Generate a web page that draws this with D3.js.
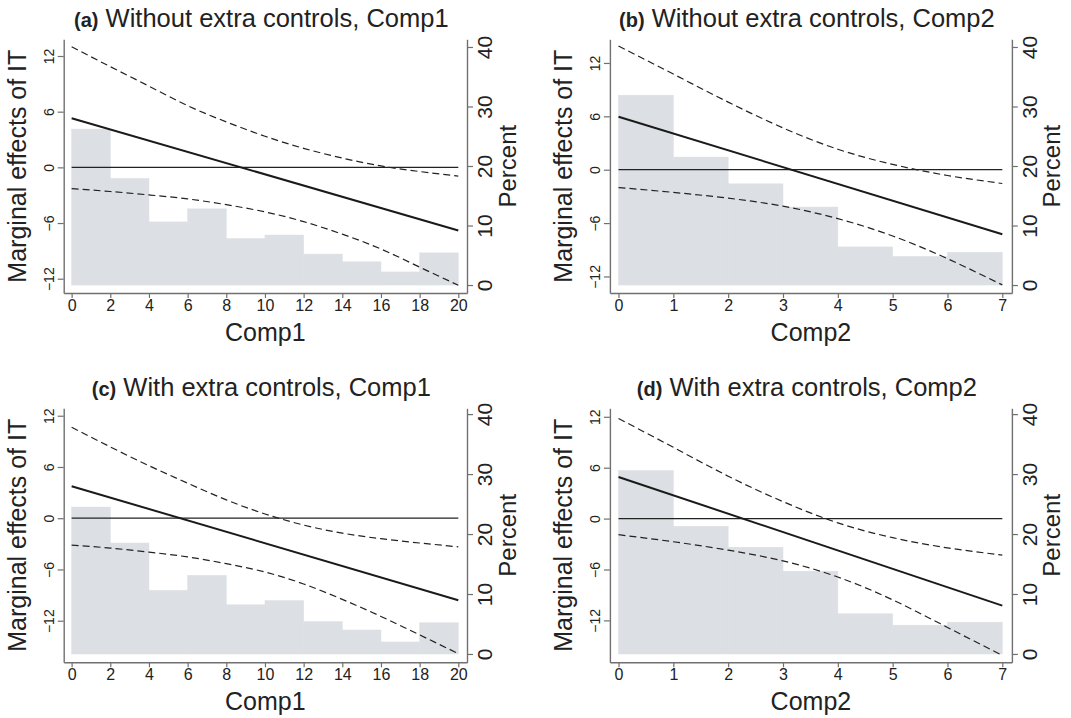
<!DOCTYPE html>
<html>
<head>
<meta charset="utf-8">
<script src="https://cdn.jsdelivr.net/npm/d3@7"></script>
<style>
  html, body { margin: 0; padding: 0; background: #fff; }
  svg { display: block; font-family: "Liberation Sans", Arial, sans-serif; }
</style>
</head>
<body>
<div id="chart"></div>
<script>
// Marginal effects of IT with histograms of the moderator (2x2 panel)

// x grid for the two moderators
const comp1X = [0, 2, 4, 6, 8, 10, 12, 14, 16, 18, 20];
const comp2X = [0, 1, 2, 3, 4, 5, 6, 7];

// histogram bins (percent), one bar per grid interval
const histA = [26.2, 17.9, 10.6, 12.8, 7.8, 8.4, 5.2, 3.9, 2.2, 5.4];
const histB = [31.9, 21.5, 17.0, 13.1, 6.4, 4.8, 5.5];
const histC = [24.5, 18.5, 10.6, 13.1, 8.2, 8.9, 5.4, 4.0, 2.0, 5.2];
const histD = [30.6, 21.3, 17.8, 13.8, 6.7, 4.8, 5.3];

// marginal effect line (straight, start and end values)
const effA = [5.3, -6.8];
const effB = [5.95, -7.25];
const effC = [3.75, -9.6];
const effD = [4.91, -10.26];

// 95% confidence bands, read at every grid point
const upperA = [13.0, 10.85, 8.75, 6.65, 4.9, 3.35, 2.05, 1.0, 0.15, -0.45, -0.95];
const lowerA = [-2.3, -2.6, -2.97, -3.4, -4.02, -4.8, -5.85, -7.2, -8.8, -10.75, -12.7];
const upperB = [13.9, 10.75, 7.6, 4.7, 2.3, 0.6, -0.65, -1.55];
const lowerB = [-2.0, -2.55, -3.2, -4.1, -5.5, -7.45, -10.0, -12.95];
const upperC = [10.65, 8.35, 6.15, 4.1, 2.15, 0.5, -0.8, -1.75, -2.4, -2.9, -3.35];
const lowerC = [-3.15, -3.5, -3.97, -4.53, -5.32, -6.3, -7.7, -9.5, -11.5, -13.66, -15.85];
const upperD = [11.8, 8.4, 5.0, 2.0, -0.5, -2.25, -3.45, -4.3];
const lowerD = [-1.9, -2.73, -3.72, -4.99, -6.89, -9.58, -12.83, -16.12];

// tick labels
const leftTicks = [-12, -6, 0, 6, 12];
const rightTicks = [0, 10, 20, 30, 40];
const comp1Ticks = [0, 2, 4, 6, 8, 10, 12, 14, 16, 18, 20];
const comp2Ticks = [0, 1, 2, 3, 4, 5, 6, 7];

const titles = ['Without extra controls, Comp1', 'Without extra controls, Comp2',
                'With extra controls, Comp1', 'With extra controls, Comp2'];
const letters = ['(a)', '(b)', '(c)', '(d)'];
const xLabels = ['Comp1', 'Comp2', 'Comp1', 'Comp2'];

const width = 1071, height = 718;
const svg = d3.select('#chart').append('svg')
  .attr('width', width).attr('height', height);

const textColor = '#222';
const axisColor = '#707070';
const barColor = '#dcdfe3';

// panel frames (axis lines) and axis ranges
const frames = [
  { left: 63.7, right: 467, top: 39.3, bottom: 293, xDom: [-0.41, 20.45], yL: [-13.54, 13.8], yR: [-1.34, 41.29] },
  { left: 609.9, right: 1011.9, top: 39.3, bottom: 293, xDom: [-0.157, 7.175], yL: [-13.86, 14.66], yR: [-1.34, 41.29] },
  { left: 63.7, right: 467, top: 408.3, bottom: 662.3, xDom: [-0.41, 20.45], yL: [-16.87, 12.87], yR: [-1.39, 40.97] },
  { left: 609.9, right: 1011.9, top: 408.3, bottom: 662.3, xDom: [-0.157, 7.175], yL: [-16.94, 13.0], yR: [-1.39, 40.97] }
];

const panelData = [
  { xs: comp1X, hist: histA, eff: effA, up: upperA, lo: lowerA, ticks: comp1Ticks },
  { xs: comp2X, hist: histB, eff: effB, up: upperB, lo: lowerB, ticks: comp2Ticks },
  { xs: comp1X, hist: histC, eff: effC, up: upperC, lo: lowerC, ticks: comp1Ticks },
  { xs: comp2X, hist: histD, eff: effD, up: upperD, lo: lowerD, ticks: comp2Ticks }
];

panelData.forEach((p, i) => {
  const f = frames[i];
  const g = svg.append('g');

  const x = d3.scaleLinear().domain(f.xDom).range([f.left, f.right]);
  const yL = d3.scaleLinear().domain(f.yL).range([f.bottom, f.top]);
  const yR = d3.scaleLinear().domain(f.yR).range([f.bottom, f.top]);

  const xMin = p.xs[0], xMax = p.xs[p.xs.length - 1];

  // histogram bars
  g.append('g').selectAll('rect')
    .data(p.hist)
    .enter().append('rect')
    .attr('x', (d, k) => x(p.xs[k]))
    .attr('width', (d, k) => x(p.xs[k + 1]) - x(p.xs[k]))
    .attr('y', d => yR(d))
    .attr('height', d => yR(0) - yR(d))
    .attr('fill', barColor)
    .attr('stroke', barColor)
    .attr('stroke-width', 0.5);

  // zero line
  g.append('line')
    .attr('x1', x(xMin)).attr('x2', x(xMax))
    .attr('y1', yL(0)).attr('y2', yL(0))
    .attr('stroke', '#222').attr('stroke-width', 1.3);

  // confidence bands
  const band = d3.line()
    .x((d, k) => x(p.xs[k]))
    .y(d => yL(d))
    .curve(d3.curveNatural);
  [p.up, p.lo].forEach(arr => {
    g.append('path')
      .attr('d', band(arr))
      .attr('fill', 'none')
      .attr('stroke', '#222')
      .attr('stroke-width', 1.2)
      .attr('stroke-dasharray', '7,4');
  });

  // marginal effect
  g.append('line')
    .attr('x1', x(xMin)).attr('x2', x(xMax))
    .attr('y1', yL(p.eff[0])).attr('y2', yL(p.eff[1]))
    .attr('stroke', '#1a1a1a').attr('stroke-width', 2);

  // left axis
  const axL = g.append('g')
    .attr('transform', `translate(${f.left},0)`)
    .call(d3.axisLeft(yL).tickValues(leftTicks).tickSize(6).tickSizeOuter(0).tickFormat(d3.format('d')));
  axL.selectAll('text')
    .attr('x', null).attr('dy', null)
    .attr('transform', 'translate(-10,0) rotate(-90)')
    .attr('text-anchor', 'middle')
    .style('font-size', '14px');

  // right axis
  const axR = g.append('g')
    .attr('transform', `translate(${f.right},0)`)
    .call(d3.axisRight(yR).tickValues(rightTicks).tickSize(6).tickSizeOuter(0).tickFormat(d3.format('d')));
  axR.selectAll('text')
    .attr('x', null).attr('dy', null)
    .attr('transform', 'translate(25,0) rotate(-90)')
    .attr('text-anchor', 'middle')
    .style('font-size', '21px');

  // bottom axis
  const axB = g.append('g')
    .attr('transform', `translate(0,${f.bottom})`)
    .call(d3.axisBottom(x).tickValues(p.ticks).tickSize(5).tickSizeOuter(0).tickFormat(d3.format('d')));
  axB.selectAll('text')
    .attr('y', 17.7).attr('dy', null)
    .style('font-size', '16px');

  [axL, axR, axB].forEach(a => {
    a.attr('font-family', null).attr('font-size', null);
    a.select('.domain').attr('stroke', axisColor).attr('stroke-width', 1.4);
    a.selectAll('.tick line').attr('stroke', axisColor).attr('stroke-width', 1.2);
    a.selectAll('text').attr('fill', textColor);
  });

  const cx = (f.left + f.right) / 2;
  const cy = (f.top + f.bottom) / 2;

  // title
  const t = g.append('text')
    .attr('x', cx - 4).attr('y', f.top - 12)
    .attr('text-anchor', 'middle')
    .attr('fill', textColor);
  t.append('tspan').attr('font-weight', 'bold').attr('font-size', '20px').text(letters[i]);
  t.append('tspan').attr('font-size', '25.5px').text(' ' + titles[i]);

  // axis titles
  g.append('text')
    .attr('transform', `translate(${f.left - 38},${cy}) rotate(-90)`)
    .attr('text-anchor', 'middle')
    .attr('font-size', '25px')
    .attr('fill', textColor)
    .text('Marginal effects of IT');

  g.append('text')
    .attr('transform', `translate(${f.right + 48.5},${cy}) rotate(-90)`)
    .attr('text-anchor', 'middle')
    .attr('font-size', '24px')
    .attr('fill', textColor)
    .text('Percent');

  g.append('text')
    .attr('x', cx).attr('y', f.bottom + 47.7)
    .attr('text-anchor', 'middle')
    .attr('font-size', '25px')
    .attr('fill', textColor)
    .text(xLabels[i]);
});
</script>
</body>
</html>
